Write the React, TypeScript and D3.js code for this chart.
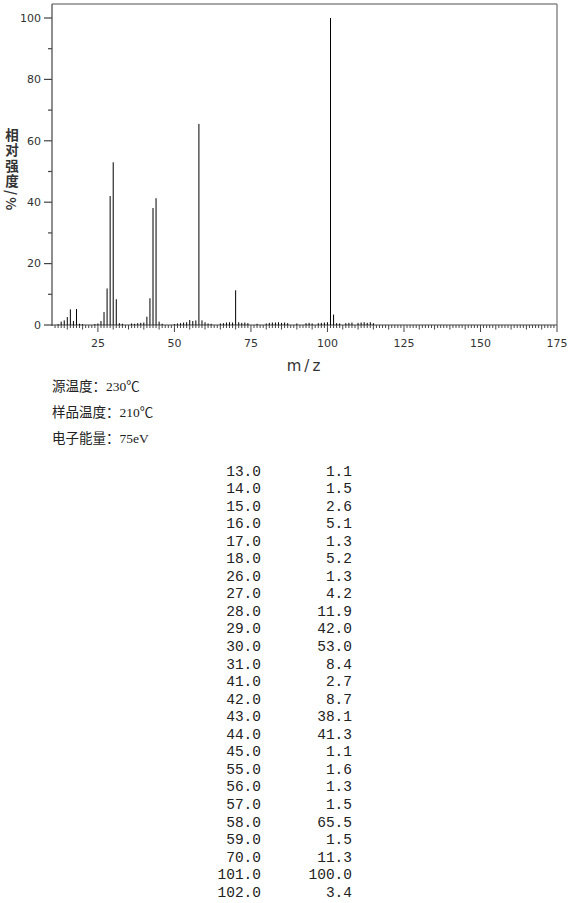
import React from "react";
import * as d3 from "d3";

const peakMz = [13, 14, 15, 16, 17, 18, 26, 27, 28, 29, 30, 31, 41, 42, 43, 44, 45, 55, 56, 57, 58, 59, 70, 101, 102];
const peakInt = [1.1, 1.5, 2.6, 5.1, 1.3, 5.2, 1.3, 4.2, 11.9, 42.0, 53.0, 8.4, 2.7, 8.7, 38.1, 41.3, 1.1, 1.6, 1.3, 1.5, 65.5, 1.5, 11.3, 100.0, 3.4];

// small noise peaks visible along the baseline (estimated)
const noiseMz = [12, 19, 20, 24, 25, 32, 33, 36, 37, 38, 39, 40, 46, 50, 51, 52, 53, 54, 60, 61, 62, 65, 66, 67, 68, 69, 71, 72, 73, 74, 77, 80, 81, 82, 83, 84, 85, 86, 87, 90, 93, 94, 95, 97, 98, 99, 100, 103, 104, 106, 107, 108, 110, 111, 112, 113, 114, 115];
const noiseInt = [0.3, 0.4, 0.3, 0.3, 0.5, 0.6, 0.4, 0.5, 0.4, 0.6, 0.7, 0.8, 0.4, 0.3, 0.5, 0.6, 0.8, 0.9, 0.9, 0.5, 0.4, 0.5, 0.6, 0.8, 0.9, 0.8, 0.9, 0.7, 0.8, 0.6, 0.4, 0.5, 0.7, 0.8, 0.8, 0.9, 0.7, 0.8, 0.6, 0.5, 0.6, 0.7, 0.5, 0.6, 0.7, 0.8, 0.9, 0.6, 0.5, 0.6, 0.7, 0.8, 0.7, 0.8, 0.9, 0.7, 0.9, 0.6];

const yTicks = [0, 20, 40, 60, 80, 100];
const yMinorTicks = [10, 30, 50, 70, 90];
const xTicks = [25, 50, 75, 100, 125, 150, 175];

const infoLines = ["源温度：230℃", "样品温度：210℃", "电子能量：75eV"];
const yLabel = "相对强度/%";

export default function App() {
  const W = 570, H = 903;
  const x = d3.scaleLinear().domain([10, 175]).range([52, 557]);
  const y = d3.scaleLinear().domain([0, 100]).range([325, 18]);
  const top = 4;
  const unitTicks = d3.range(11, 176);
  const axisColor = "#444";
  const frameColor = "#8a8a8a";
  const tickFont = "'DejaVu Sans', Verdana, sans-serif";
  const cjkFont = "'Liberation Serif', 'Noto Sans CJK SC', serif";
  const mono = "'Liberation Mono', 'Courier New', monospace";
  const row0 = 475.5, rowStep = 17.55;

  return (
    <svg width={W} height={H} style={{ position: "absolute", left: 0, top: 0, background: "#fff" }}>
      {/* frame */}
      <line x1={52} x2={557} y1={top} y2={top} stroke={frameColor} strokeWidth={1.5} />
      <line x1={557} x2={557} y1={top} y2={y(0)} stroke={frameColor} strokeWidth={1.5} />
      <line x1={52} x2={52} y1={top} y2={y(0) + 1} stroke={axisColor} strokeWidth={1.2} />
      <line x1={52} x2={557} y1={y(0)} y2={y(0)} stroke={axisColor} strokeWidth={1.2} />

      {/* y ticks */}
      {yTicks.map((t) => (
        <g key={"yt" + t}>
          <line x1={44} x2={52} y1={y(t)} y2={y(t)} stroke={axisColor} strokeWidth={1.2} />
          <text x={41} y={y(t)} dy="0.35em" textAnchor="end" fontSize={11} fontFamily={tickFont} fill="#333">{t}</text>
        </g>
      ))}
      {yMinorTicks.map((t) => (
        <line key={"ym" + t} x1={48} x2={52} y1={y(t)} y2={y(t)} stroke={axisColor} strokeWidth={1.2} />
      ))}

      {/* x unit ticks */}
      {unitTicks.map((t) => {
        const len = t % 25 === 0 ? 7 : t % 5 === 0 ? 4.5 : 3;
        return (
          <line key={"xu" + t} x1={x(t)} x2={x(t)} y1={y(0)} y2={y(0) + len} stroke={axisColor} strokeWidth={1} />
        );
      })}
      {xTicks.map((t) => (
        <text key={"xl" + t} x={x(t)} y={347} textAnchor="middle" fontSize={11} fontFamily={tickFont} fill="#333">{t}</text>
      ))}

      {/* noise peaks */}
      {noiseMz.map((m, i) => (
        <line key={"n" + m} x1={x(m)} x2={x(m)} y1={y(0)} y2={y(noiseInt[i])} stroke="#000" strokeWidth={1} />
      ))}
      {/* peaks */}
      {peakMz.map((m, i) => (
        <line key={"p" + m} x1={x(m)} x2={x(m)} y1={y(0)} y2={y(peakInt[i])} stroke="#000" strokeWidth={1} />
      ))}

      {/* axis titles */}
      <text x={305} y={371} textAnchor="middle" fontSize={15} fontFamily={tickFont} fill="#333" letterSpacing={3}>m/z</text>
      <text x={12} y={128} fontSize={13.5} fontWeight="bold" fontFamily="'Noto Sans CJK SC', sans-serif" fill="#333"
        style={{ writingMode: "vertical-rl" }} letterSpacing={2}>{yLabel}</text>

      {/* info lines */}
      {infoLines.map((s, i) => (
        <text key={"info" + i} x={52} y={391 + i * 26} fontSize={13.5} fontFamily={cjkFont} fill="#222">{s}</text>
      ))}

      {/* table */}
      {peakMz.map((m, i) => (
        <g key={"row" + m}>
          <text x={261} y={row0 + i * rowStep} textAnchor="end" fontSize={14.5} fontFamily={mono} fill="#222">{m.toFixed(1)}</text>
          <text x={352} y={row0 + i * rowStep} textAnchor="end" fontSize={14.5} fontFamily={mono} fill="#222">{peakInt[i].toFixed(1)}</text>
        </g>
      ))}
    </svg>
  );
}
